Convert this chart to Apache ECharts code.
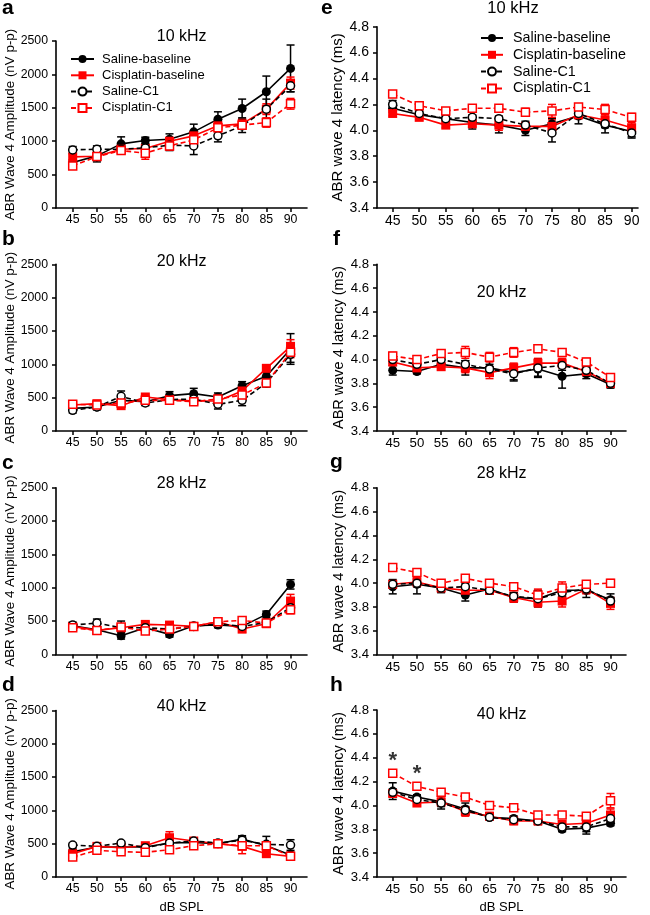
<!DOCTYPE html>
<html>
<head>
<meta charset="utf-8">
<script src="https://cdn.jsdelivr.net/npm/echarts@6/dist/echarts.min.js"></script>
<style>
html,body{margin:0;padding:0;background:#fff;}
#chart{width:650px;height:915px;}
</style>
</head>
<body>
<div id="chart"></div>
<script>
// ---------- DATA ----------
const dbSPL = [45, 50, 55, 60, 65, 70, 75, 80, 85, 90];
const seriesNames = ['Saline-baseline', 'Cisplatin-baseline', 'Saline-C1', 'Cisplatin-C1'];
const freqTitles = ['10 kHz', '20 kHz', '28 kHz', '40 kHz'];
const ampTicks = [0, 500, 1000, 1500, 2000, 2500];
const latTicks = [3.4, 3.6, 3.8, 4.0, 4.2, 4.4, 4.6, 4.8];

// Amplitude (nV p-p), rows: Saline-baseline, Cisplatin-baseline, Saline-C1, Cisplatin-C1
const amp10k = [
  [680, 780, 960, 1010, 1030, 1140, 1330, 1490, 1740, 2090],
  [765, 775, 880, 890, 1000, 1080, 1230, 1260, 1480, 1870],
  [870, 880, 880, 900, 940, 930, 1080, 1230, 1480, 1830],
  [630, 770, 860, 820, 930, 1020, 1200, 1240, 1280, 1560]
];
const amp10kSem = [
  [40, 90, 105, 50, 80, 115, 110, 140, 235, 350],
  [40, 50, 40, 60, 50, 60, 60, 70, 80, 90],
  [50, 50, 50, 60, 80, 130, 90, 100, 150, 90],
  [50, 50, 50, 90, 60, 60, 60, 60, 70, 80]
];
const amp20k = [
  [340, 360, 460, 440, 530, 560, 510, 680, 820, 1230],
  [390, 410, 380, 510, 470, 450, 450, 600, 940, 1270],
  [310, 360, 520, 420, 470, 480, 400, 460, 720, 1150],
  [400, 390, 420, 460, 460, 440, 480, 540, 720, 1180]
];
const amp20kSem = [
  [40, 40, 50, 50, 60, 80, 60, 60, 60, 230],
  [30, 40, 40, 40, 40, 40, 40, 50, 50, 100],
  [40, 40, 80, 40, 50, 50, 70, 80, 60, 120],
  [30, 30, 40, 40, 40, 40, 40, 50, 50, 80]
];
const amp28k = [
  [430, 370, 280, 400, 300, 430, 440, 420, 600, 1050],
  [420, 360, 400, 450, 440, 420, 490, 380, 460, 800],
  [440, 470, 400, 400, 380, 420, 460, 420, 480, 700],
  [400, 360, 410, 350, 380, 420, 490, 510, 470, 670]
];
const amp28kSem = [
  [50, 40, 50, 40, 40, 40, 40, 40, 50, 70],
  [40, 40, 40, 40, 40, 40, 40, 50, 40, 100],
  [40, 60, 100, 40, 40, 40, 40, 40, 40, 60],
  [40, 40, 40, 40, 40, 40, 40, 40, 40, 60]
];
const amp40k = [
  [380, 450, 450, 450, 510, 520, 500, 570, 470, 330],
  [350, 460, 440, 470, 590, 540, 500, 460, 350, 310],
  [480, 460, 510, 440, 510, 540, 510, 550, 490, 480],
  [300, 400, 380, 370, 410, 470, 500, 470, 470, 310]
];
const amp40kSem = [
  [40, 40, 40, 40, 50, 50, 50, 50, 40, 40],
  [40, 40, 40, 40, 90, 40, 40, 110, 40, 40],
  [30, 30, 30, 30, 30, 40, 40, 50, 120, 80],
  [30, 30, 30, 30, 30, 30, 30, 40, 40, 30]
];

// Latency (ms)
const lat10k = [
  [4.17, 4.12, 4.09, 4.06, 4.04, 4.00, 4.05, 4.11, 4.04, 3.99],
  [4.13, 4.10, 4.04, 4.05, 4.04, 4.03, 4.03, 4.12, 4.08, 4.02],
  [4.20, 4.13, 4.09, 4.10, 4.09, 4.04, 3.98, 4.13, 4.05, 3.98],
  [4.28, 4.19, 4.15, 4.17, 4.17, 4.14, 4.15, 4.18, 4.16, 4.10]
];
const lat10kSem = [
  [0.03, 0.02, 0.02, 0.05, 0.06, 0.04, 0.04, 0.06, 0.06, 0.05],
  [0.02, 0.02, 0.02, 0.02, 0.04, 0.03, 0.05, 0.03, 0.04, 0.04],
  [0.03, 0.02, 0.02, 0.02, 0.02, 0.03, 0.07, 0.03, 0.03, 0.03],
  [0.02, 0.02, 0.02, 0.02, 0.02, 0.03, 0.05, 0.02, 0.04, 0.03]
];
const lat20k = [
  [3.91, 3.90, 3.96, 3.93, 3.93, 3.89, 3.92, 3.86, 3.88, 3.79],
  [3.98, 3.93, 3.94, 3.93, 3.89, 3.93, 3.97, 3.97, 3.90, 3.80],
  [4.00, 3.96, 4.00, 3.96, 3.92, 3.88, 3.93, 3.95, 3.91, 3.80],
  [4.03, 4.00, 4.05, 4.06, 4.02, 4.06, 4.09, 4.06, 3.98, 3.85]
];
const lat20kSem = [
  [0.04, 0.02, 0.03, 0.06, 0.06, 0.07, 0.07, 0.10, 0.04, 0.03],
  [0.03, 0.03, 0.03, 0.04, 0.05, 0.04, 0.04, 0.04, 0.04, 0.03],
  [0.03, 0.03, 0.03, 0.03, 0.04, 0.05, 0.07, 0.04, 0.03, 0.03],
  [0.03, 0.03, 0.03, 0.05, 0.04, 0.04, 0.03, 0.03, 0.03, 0.02]
];
const lat28k = [
  [3.97, 3.99, 3.96, 3.90, 3.95, 3.88, 3.87, 3.94, 3.94, 3.86],
  [3.99, 4.01, 3.96, 3.94, 3.94, 3.88, 3.84, 3.85, 3.95, 3.83],
  [3.99, 4.00, 3.96, 3.97, 3.94, 3.89, 3.87, 3.92, 3.95, 3.85],
  [4.13, 4.09, 4.00, 4.04, 4.00, 3.97, 3.90, 3.96, 3.99, 4.00]
];
const lat28kSem = [
  [0.06, 0.08, 0.04, 0.05, 0.04, 0.04, 0.07, 0.04, 0.06, 0.05],
  [0.03, 0.04, 0.03, 0.04, 0.03, 0.04, 0.04, 0.05, 0.04, 0.05],
  [0.03, 0.03, 0.03, 0.03, 0.03, 0.03, 0.04, 0.03, 0.03, 0.03],
  [0.02, 0.02, 0.02, 0.02, 0.02, 0.03, 0.05, 0.05, 0.03, 0.03]
];
const lat40k = [
  [4.12, 4.07, 4.03, 3.97, 3.90, 3.89, 3.87, 3.80, 3.81, 3.85],
  [4.10, 4.02, 4.03, 3.95, 3.91, 3.87, 3.87, 3.84, 3.85, 3.92],
  [4.11, 4.05, 4.02, 3.96, 3.90, 3.88, 3.87, 3.82, 3.82, 3.89],
  [4.27, 4.16, 4.11, 4.07, 4.00, 3.98, 3.92, 3.92, 3.91, 4.04]
];
const lat40kSem = [
  [0.07, 0.02, 0.06, 0.05, 0.02, 0.02, 0.03, 0.02, 0.05, 0.02],
  [0.03, 0.02, 0.03, 0.04, 0.03, 0.03, 0.03, 0.03, 0.03, 0.05],
  [0.03, 0.02, 0.03, 0.03, 0.02, 0.02, 0.02, 0.02, 0.04, 0.03],
  [0.02, 0.02, 0.02, 0.01, 0.01, 0.01, 0.01, 0.01, 0.01, 0.06]
];
// significance markers in panel h
const sigDb = [45, 50];
const sigY = [4.40, 4.29];

// ---------- STYLE / LAYOUT ----------
const FONT = '"Liberation Sans", Arial, Helvetica, sans-serif';
const RED = '#ff0000';
const BLACK = '#000000';
const sColors = [BLACK, RED, BLACK, RED];
const sSymbols = ['circle', 'rect', 'circle', 'rect'];
const sFilled = [true, true, false, false];
const sDashed = [false, false, true, true];

const panels = [
  {letter: 'a', kind: 'amp', vals: amp10k, sems: amp10kSem, title: freqTitles[0], left: 56, top: 41, width: 251, height: 167, xMin: 41.55, xMax: 93.4, titleX: 181.7, titleY: 36.7, letX: 2, letY: 8, fs: 12.3, nfs: 13.4, ngap: 35},
  {letter: 'b', kind: 'amp', vals: amp20k, sems: amp20kSem, title: freqTitles[1], left: 56, top: 264.3, width: 251, height: 166.7, xMin: 41.55, xMax: 93.4, titleX: 181.7, titleY: 261.3, letX: 2, letY: 239, fs: 12.3, nfs: 13.4, ngap: 35},
  {letter: 'c', kind: 'amp', vals: amp28k, sems: amp28kSem, title: freqTitles[2], left: 56, top: 487.7, width: 251, height: 166.7, xMin: 41.55, xMax: 93.4, titleX: 181.7, titleY: 484, letX: 2, letY: 463, fs: 12.3, nfs: 13.4, ngap: 35},
  {letter: 'd', kind: 'amp', vals: amp40k, sems: amp40kSem, title: freqTitles[3], left: 56, top: 710.5, width: 251, height: 166.5, xMin: 41.55, xMax: 93.4, titleX: 181.7, titleY: 707, letX: 2, letY: 685, fs: 12.3, nfs: 13.4, ngap: 35, xName: 'dB SPL'},
  {letter: 'e', kind: 'lat', vals: lat10k, sems: lat10kSem, title: freqTitles[0], left: 377, top: 26.7, width: 261, height: 181.3, xMin: 42.05, xMax: 91.2, titleX: 513, titleY: 8.3, letX: 321, letY: 8, fs: 14, nfs: 15, ngap: 31},
  {letter: 'f', kind: 'lat', vals: lat20k, sems: lat20kSem, title: freqTitles[1], left: 377, top: 264.3, width: 249, height: 166.7, xMin: 41.75, xMax: 93.2, titleX: 501.7, titleY: 292.5, letX: 333, letY: 239, fs: 13.2, nfs: 14.5, ngap: 31},
  {letter: 'g', kind: 'lat', vals: lat28k, sems: lat28kSem, title: freqTitles[2], left: 377, top: 487.7, width: 249, height: 167, xMin: 41.75, xMax: 93.2, titleX: 501.7, titleY: 474, letX: 330, letY: 462, fs: 13.2, nfs: 14.5, ngap: 31},
  {letter: 'h', kind: 'lat', vals: lat40k, sems: lat40kSem, title: freqTitles[3], left: 377, top: 710, width: 249, height: 167, xMin: 41.75, xMax: 93.2, titleX: 501.7, titleY: 714.7, letX: 330, letY: 685, fs: 13.2, nfs: 14.5, ngap: 31, xName: 'dB SPL'}
];

const grids = [], xAxes = [], yAxes = [], series = [], graphics = [];

panels.forEach((p, i) => {
  grids.push({left: p.left, top: p.top, width: p.width, height: p.height, containLabel: false});
  xAxes.push({
    type: 'value', gridIndex: i, min: p.xMin, max: p.xMax,
    splitLine: {show: false},
    axisLine: {show: true, onZero: false, lineStyle: {color: BLACK, width: 1.6}},
    axisTick: {show: true, length: 4, inside: false, lineStyle: {color: BLACK, width: 1.5}, customValues: dbSPL},
    axisLabel: {color: BLACK, fontSize: p.fs, fontFamily: FONT, margin: 6, customValues: dbSPL, formatter: v => String(v)},
    name: p.xName || '', nameLocation: 'middle', nameGap: 24,
    nameTextStyle: {color: BLACK, fontSize: 13, fontFamily: FONT}
  });
  const isAmp = p.kind === 'amp';
  const ticks = isAmp ? ampTicks : latTicks;
  yAxes.push({
    type: 'value', gridIndex: i,
    min: ticks[0], max: ticks[ticks.length - 1],
    interval: isAmp ? 500 : 0.2,
    splitLine: {show: false},
    axisLine: {show: true, onZero: false, lineStyle: {color: BLACK, width: 1.6}},
    axisTick: {show: true, length: 4, lineStyle: {color: BLACK, width: 1.5}},
    axisLabel: {color: BLACK, fontSize: p.fs, fontFamily: FONT, margin: 8,
      formatter: v => isAmp ? String(Math.round(v)) : v.toFixed(1)},
    name: isAmp ? 'ABR Wave 4 Amplitude (nV p-p)' : 'ABR wave 4 latency (ms)',
    nameLocation: 'middle', nameGap: p.ngap, nameRotate: 90,
    nameTextStyle: {color: BLACK, fontSize: p.nfs, fontFamily: FONT}
  });

  for (let k = 0; k < 4; k++) {
    const col = sColors[k];
    const errData = dbSPL.map((x, j) => [x, p.vals[k][j], p.sems[k][j]]);
    series.push({
      type: 'custom', xAxisIndex: i, yAxisIndex: i, z: 2, silent: true,
      encode: {x: 0, y: 1},
      data: errData,
      renderItem: (params, api) => {
        const x = api.value(0), y = api.value(1), e = api.value(2);
        const a = api.coord([x, y + e]);
        const b = api.coord([x, y - e]);
        const hw = 4;
        const st = {stroke: col, lineWidth: 1.5};
        return {type: 'group', children: [
          {type: 'line', shape: {x1: a[0], y1: a[1], x2: b[0], y2: b[1]}, style: st},
          {type: 'line', shape: {x1: a[0] - hw, y1: a[1], x2: a[0] + hw, y2: a[1]}, style: st},
          {type: 'line', shape: {x1: b[0] - hw, y1: b[1], x2: b[0] + hw, y2: b[1]}, style: st}
        ]};
      }
    });
  }
  for (let k = 0; k < 4; k++) {
    const col = sColors[k];
    series.push({
      type: 'line', name: seriesNames[k], xAxisIndex: i, yAxisIndex: i, z: 3,
      data: dbSPL.map((x, j) => [x, p.vals[k][j]]),
      symbol: sSymbols[k],
      symbolSize: sFilled[k] ? 9 : 8,
      showAllSymbol: true,
      lineStyle: {color: col, width: 1.6, type: sDashed[k] ? [5, 3] : 'solid'},
      itemStyle: sFilled[k] ? {color: col, borderWidth: 0} : {color: '#ffffff', borderColor: col, borderWidth: 1.5},
      emphasis: {disabled: true},
      animation: false
    });
  }

  graphics.push({type: 'text', style: {x: p.titleX, y: p.titleY, text: p.title, font: (p.letter === 'e' ? '16.5px ' : '16px ') + FONT, fill: BLACK, textAlign: 'center', textVerticalAlign: 'middle'}});
  graphics.push({type: 'text', style: {x: p.letX, y: p.letY, text: p.letter, font: 'bold 21px ' + FONT, fill: BLACK, textAlign: 'left', textVerticalAlign: 'middle'}});
});

// significance asterisks (panel h, index 7)
series.push({
  type: 'scatter', xAxisIndex: 7, yAxisIndex: 7, z: 5, silent: true,
  symbolSize: 1, itemStyle: {color: 'rgba(0,0,0,0)'},
  data: sigDb.map((x, j) => [x, sigY[j]]),
  label: {show: true, position: 'inside', formatter: '*', color: BLACK, fontSize: 22, fontWeight: 'bold', fontFamily: FONT, offset: [0, 3]}
});

const legendBase = {
  data: seriesNames, orient: 'vertical', padding: 0, itemHeight: 10, selectedMode: false
};

const option = {
  animation: false,
  backgroundColor: '#ffffff',
  grid: grids,
  xAxis: xAxes,
  yAxis: yAxes,
  legend: [
    Object.assign({}, legendBase, {left: 70, top: 52.5, itemWidth: 23, itemGap: 3.3, textStyle: {color: BLACK, fontFamily: FONT, fontSize: 13, padding: [0, 0, 0, 3]}}),
    Object.assign({}, legendBase, {left: 480, top: 31, itemWidth: 22, itemGap: 2.8, textStyle: {color: BLACK, fontFamily: FONT, fontSize: 14.3, padding: [0, 0, 0, 5]}})
  ],
  graphic: graphics,
  series: series
};

const chart = echarts.init(document.getElementById('chart'), null, {renderer: 'canvas'});
chart.setOption(option);
</script>
</body>
</html>
